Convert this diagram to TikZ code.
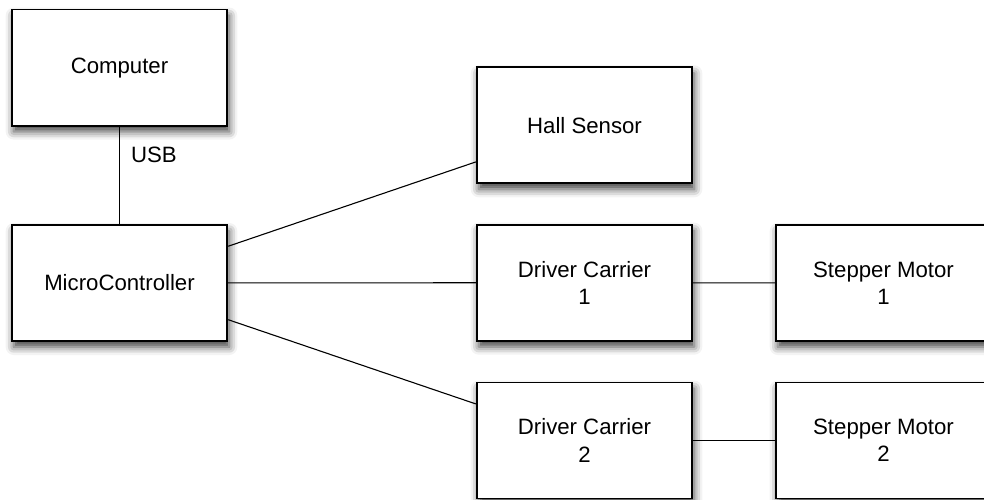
\documentclass[tikz,border=0pt]{standalone}
\usepackage{fontspec}
\setmainfont{Liberation Sans}
\usetikzlibrary{shadows.blur}
\begin{document}
\begin{tikzpicture}[x=1pt,y=-1pt,
  font=\fontsize{22.2}{27.4}\selectfont,
  block/.style={draw=black, fill=white, line width=1.8pt,
    minimum width=215.6pt, minimum height=116pt, inner sep=0pt,
    align=center,
    blur shadow={shadow xshift=2pt, shadow yshift=-6pt,
      shadow blur radius=8pt, shadow opacity=75}},
  wire/.style={draw=black, line width=1.1pt}]
  \useasboundingbox (0,0) rectangle (984,500);
  \clip (0,0) rectangle (984,500);

  % left column
  \node[block] (comp) at (119.5,67.6) {Computer};
  \node[block] (mcu)  at (119.5,283)  {MicroController};

  % middle column
  \node[block] (hall) at (584.5,125.3) {Hall Sensor};
  \node[block] (drv1) at (584.5,282.7) {Driver Carrier\\1};
  \node[block] (drv2) at (584.5,440.5) {Driver Carrier\\2};

  % right column
  \node[block] (mot1) at (883.5,283)   {Stepper Motor\\1};
  \node[block] (mot2) at (883.5,440.5) {Stepper Motor\\2};

  % connections
  \draw[wire] (comp) -- (mcu)
    node[pos=0.295, anchor=west, inner sep=0pt, xshift=11pt] (usb) {USB};
  \draw[wire] (mcu) -- (hall);
  \draw[wire] (mcu) -- (drv1);
  \draw[wire] (mcu) -- (drv2);
  \draw[wire] (drv1) -- (mot1);
  \draw[wire] (drv2) -- (mot2);
\end{tikzpicture}
\end{document}
